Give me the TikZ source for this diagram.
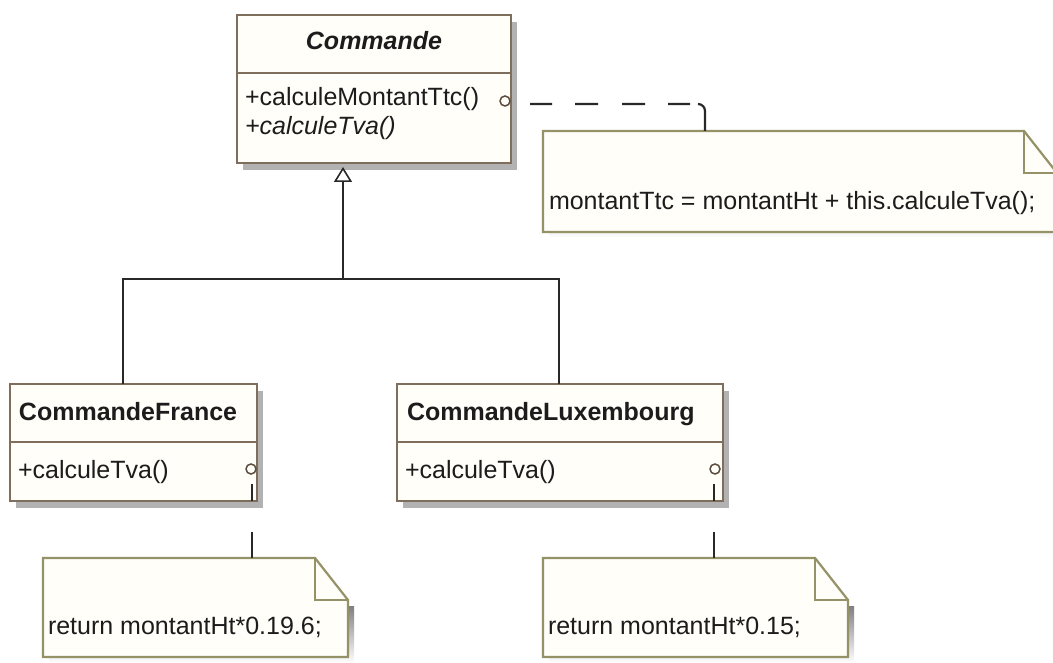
\documentclass[tikz,border=0pt]{standalone}
\usepackage{fontspec}
\setmainfont{Liberation Sans}
\usetikzlibrary{calc,shadows,arrows.meta}
\definecolor{classline}{RGB}{128,110,92}
\definecolor{noteline}{RGB}{150,146,104}
\definecolor{boxfill}{RGB}{255,254,249}
\definecolor{shade}{RGB}{178,178,178}
\definecolor{ink}{RGB}{28,28,28}
\definecolor{wire}{RGB}{40,40,40}
\newcommand\umlsize{\fontsize{25}{30}\selectfont}
% note with a folded top-right corner, drawn around an empty node
\newcommand\foldnote[1]{%
  \fill[shade] ($(#1.north west)+(6,48)$) rectangle ($(#1.south east)+(6,6)$);
  \filldraw[fill=boxfill, draw=noteline, line width=2.2pt, line join=miter]
    (#1.north west) -- ($(#1.north east)+(-33,0)$) -- ($(#1.north east)+(0,42)$)
    -- (#1.south east) -- (#1.south west) -- cycle;
  \draw[noteline, line width=2.2pt] ($(#1.north east)+(-33,0)$) |- ($(#1.north east)+(0,42)$);
}
\begin{document}
\begin{tikzpicture}[x=1pt,y=-1pt,
  every node/.style={font=\umlsize, text=ink, inner sep=0pt, outer sep=0pt},
  classbox/.style={draw=classline, line width=2.4pt, fill=boxfill, anchor=north west,
    drop shadow={shadow xshift=6pt, shadow yshift=-7pt, fill=shade, opacity=1}},
  sep/.style={draw=classline, line width=2.4pt},
  port/.style={circle, draw=classline!70!black, line width=1.5pt, fill=boxfill, minimum size=10pt},
  gen/.style={draw=wire, line width=2pt},
  notebody/.style={anchor=north west},
  notelink/.style={draw=wire, line width=2.2pt},
  lbl/.style={anchor=base west},
  cname/.style={anchor=base west, font=\umlsize\bfseries},
]
\useasboundingbox (0,0) rectangle (1053,663);
\fill[white] (0,0) rectangle (1053,663);
\clip (0,0) rectangle (1053,663);

% abstract class
\node[classbox, minimum width=274pt, minimum height=148pt] (cmd) at (237,15) {};
\draw[sep] ([yshift=-58pt]cmd.north west) -- ([yshift=-58pt]cmd.north east);
\node[anchor=base, font=\umlsize\bfseries\itshape] (cmdname) at (374,50) {Commande};
\node[lbl] (cmdop1) at (245,106) {+calculeMontantTtc()};
\node[lbl, font=\umlsize\itshape] (cmdop2) at (245,135) {+calculeTva()};
\node[port] (cmdc) at (505,101) {};

% subclasses
\node[classbox, minimum width=247pt, minimum height=117pt] (fr) at (10,384) {};
\draw[sep] ([yshift=-58pt]fr.north west) -- ([yshift=-58pt]fr.north east);
\node[cname] (frname) at (19,420) {CommandeFrance};
\node[lbl] (frop) at (18,478) {+calculeTva()};
\node[port] (frc) at (251,469) {};

\node[classbox, minimum width=326pt, minimum height=117pt] (lux) at (397,384) {};
\draw[sep] ([yshift=-58pt]lux.north west) -- ([yshift=-58pt]lux.north east);
\node[cname] (luxname) at (407,420) {CommandeLuxembourg};
\node[lbl] (luxop) at (405,478) {+calculeTva()};
\node[port] (luxc) at (715,469) {};

% notes
\node[notebody, minimum width=514pt, minimum height=101pt] (note1) at (543,131) {};
\foldnote{note1}
\node[lbl] (note1txt) at (549,210) {montantTtc = montantHt + this.calculeTva();};

\node[notebody, minimum width=305pt, minimum height=99pt] (frnote) at (43,558) {};
\foldnote{frnote}
\node[lbl] (frnotetxt) at (48,634) {return montantHt*0.19.6;};

\node[notebody, minimum width=305pt, minimum height=99pt] (luxnote) at (543,558) {};
\foldnote{luxnote}
\node[lbl] (luxnotetxt) at (548,634) {return montantHt*0.15;};

% generalisation
\coordinate (joint) at (343,279);
\draw[gen, -{Triangle[open, length=15pt, width=18pt, line width=1.6pt]}]
  ([xshift=-10.5pt]fr.north) |- (joint) -- ([xshift=-31pt,yshift=-4pt]cmd.south);
\draw[gen] ([xshift=-1pt]lux.north) |- (joint);

% note anchors
\draw[notelink, rounded corners=7pt,
  dash pattern=on 0pt off 20pt on 22pt off 23pt on 23pt off 24pt on 23pt off 23pt on 22pt off 8pt on 80pt off 1pt]
  ([yshift=-3pt]cmdc.east) -| ($(note1.north west)+(162,0)$);
\draw[notelink, dash pattern=on 0pt off 10pt on 17pt off 31pt on 40pt off 1pt]
  ([xshift=1pt]frc.south) -- ([xshift=1pt]frc.south |- frnote.north);
\draw[notelink, dash pattern=on 0pt off 10pt on 17pt off 31pt on 40pt off 1pt]
  ([xshift=-1pt]luxc.south) -- ([xshift=-1pt]luxc.south |- luxnote.north);
\end{tikzpicture}
\end{document}
